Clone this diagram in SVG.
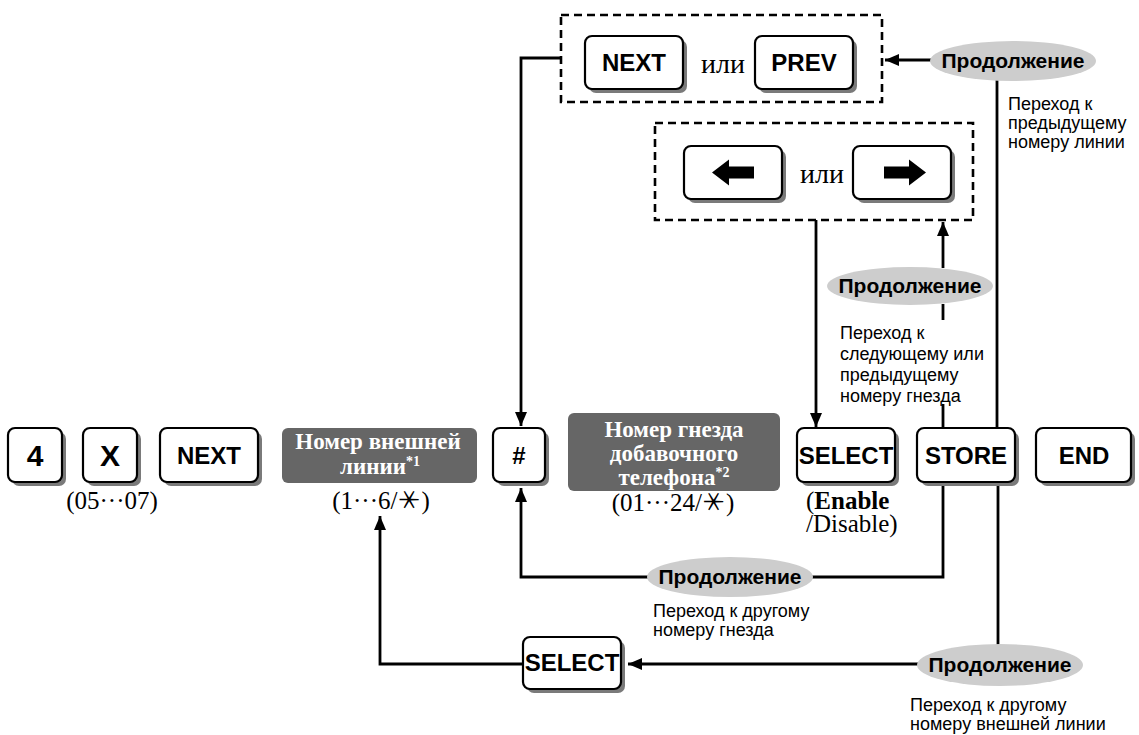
<svg xmlns="http://www.w3.org/2000/svg" width="1139" height="735" viewBox="0 0 1139 735">
<style>
.sh{fill:#7a7a7a}
.k{fill:#fff;stroke:#000;stroke-width:2.2}
.kt{font-family:"Liberation Sans",Arial,sans-serif;font-weight:bold;font-size:24px;text-anchor:middle;fill:#000}
.kb{font-size:30px}
.gb{fill:#666}
.gt{font-family:"Liberation Serif","Times New Roman",serif;font-weight:bold;font-size:23px;text-anchor:middle;fill:#fff}
.sup{font-size:14px}
.ser{font-family:"Liberation Serif","Times New Roman",serif;font-size:25px;fill:#000}
.mid{text-anchor:middle}
.ili{font-size:28px}
.el{fill:#cdcdcd}
.et{font-family:"Liberation Sans",Arial,sans-serif;font-weight:bold;font-size:21px;text-anchor:middle;fill:#000}
.lb{font-family:"Liberation Sans",Arial,sans-serif;font-size:18px;fill:#000}
.ln{fill:none;stroke:#000;stroke-width:2.8}
.ds{fill:none;stroke:#000;stroke-width:2.6;stroke-dasharray:8 5}
.ast{font-family:"Noto Sans CJK JP","DejaVu Sans",sans-serif;font-weight:normal}
</style>
<defs>
<marker id="ah" viewBox="0 0 14 12" refX="14" refY="6" markerWidth="14" markerHeight="12" markerUnits="userSpaceOnUse" orient="auto">
<path d="M0,0 L14,6 L0,12 z" fill="#000"/>
</marker>
</defs>

<g id="connectors">
<path class="ln" d="M561,58 H521 V426" marker-end="url(#ah)"/>
<path class="ln" d="M931,60 H885" marker-end="url(#ah)"/>
<path class="ln" d="M997,80 V428"/>
<path class="ln" d="M816,220 V427" marker-end="url(#ah)"/>
<path class="ln" d="M943,268 V222" marker-end="url(#ah)"/>
<path class="ln" d="M943,304 V320"/>
<path class="ln" d="M943,404 V428"/>
<path class="ln" d="M943,482 V577 H521 V488" marker-end="url(#ah)"/>
<path class="ln" d="M998,482 V646"/>
<path class="ln" d="M918,664 H628" marker-end="url(#ah)"/>
<path class="ln" d="M523,664 H380 V516" marker-end="url(#ah)"/>
</g>

<g id="box-next-prev">
<rect class="ds" x="561" y="15" width="321" height="87"/>
<g id="key-next-top"><rect class="sh" x="589" y="40" width="98" height="53" rx="7"/><rect class="k" x="585" y="36" width="98" height="53" rx="7"/><text class="kt" x="634" y="71">NEXT</text></g>
<text class="ser ili mid" x="723" y="73">или</text>
<g id="key-prev"><rect class="sh" x="759" y="40" width="98" height="53" rx="7"/><rect class="k" x="755" y="36" width="98" height="53" rx="7"/><text class="kt" x="804" y="71">PREV</text></g>
</g>

<g id="box-arrows">
<rect class="ds" x="655" y="123" width="318" height="97"/>
<g id="key-left"><rect class="sh" x="688" y="150" width="98" height="53" rx="7"/><rect class="k" x="684" y="146" width="98" height="53" rx="7"/>
<polygon points="712,172.5 729,159.5 729,166.5 754,166.5 754,178.5 729,178.5 729,185.5" fill="#000"/></g>
<text class="ser ili mid" x="822" y="183">или</text>
<g id="key-right"><rect class="sh" x="857" y="150" width="98" height="53" rx="7"/><rect class="k" x="853" y="146" width="98" height="53" rx="7"/>
<polygon points="926,172.5 909,159.5 909,166.5 884,166.5 884,178.5 909,178.5 909,185.5" fill="#000"/></g>
</g>

<g id="key-4"><rect class="sh" x="12" y="432" width="54" height="54" rx="7"/><rect class="k" x="8" y="428" width="54" height="54" rx="7"/><text class="kt kb" x="35" y="466">4</text></g>
<g id="key-x"><rect class="sh" x="87" y="432" width="54" height="54" rx="7"/><rect class="k" x="83" y="428" width="54" height="54" rx="7"/><text class="kt kb" x="110" y="466">X</text></g>
<text class="ser mid" x="112" y="509">(05···07)</text>
<g id="key-next"><rect class="sh" x="164" y="432" width="98" height="54" rx="7"/><rect class="k" x="160" y="428" width="98" height="54" rx="7"/><text class="kt" x="209" y="464">NEXT</text></g>

<g id="box-line">
<rect class="gb" x="282" y="428" width="195" height="55" rx="6"/>
<text class="gt" x="378" y="449">Номер внешней</text>
<text class="gt" x="380" y="474">линии<tspan class="sup" dy="-8">*1</tspan></text>
</g>
<text class="ser mid" x="381" y="509">(1···6/<tspan class="ast" rotate="30" dx="-4" dy="-7.5">＊</tspan><tspan dx="3" dy="7.5">)</tspan></text>

<g id="key-hash"><rect class="sh" x="497" y="432" width="52" height="54" rx="7"/><rect class="k" x="493" y="428" width="52" height="54" rx="7"/><text class="kt" x="519" y="464">#</text></g>

<g id="box-jack">
<rect class="gb" x="568" y="413" width="212" height="78" rx="6"/>
<text class="gt" x="674" y="437">Номер гнезда</text>
<text class="gt" x="674" y="461">добавочного</text>
<text class="gt" x="674" y="485">телефона<tspan class="sup" dy="-8">*2</tspan></text>
</g>
<text class="ser mid" x="673" y="511">(01···24/<tspan class="ast" rotate="30" dx="-4" dy="-7.5">＊</tspan><tspan dx="3" dy="7.5">)</tspan></text>

<g id="key-select"><rect class="sh" x="801" y="432" width="98" height="54" rx="7"/><rect class="k" x="797" y="428" width="98" height="54" rx="7"/><text class="kt" x="846" y="464">SELECT</text></g>
<text class="ser" x="806" y="509">(<tspan font-weight="bold">Enable</tspan></text>
<text class="ser" x="806" y="532">/Disable)</text>
<g id="key-store"><rect class="sh" x="921" y="432" width="98" height="54" rx="7"/><rect class="k" x="917" y="428" width="98" height="54" rx="7"/><text class="kt" x="966" y="464">STORE</text></g>
<g id="key-end"><rect class="sh" x="1040" y="432" width="95" height="54" rx="7"/><rect class="k" x="1036" y="428" width="95" height="54" rx="7"/><text class="kt" x="1084" y="464">END</text></g>

<g id="key-select2"><rect class="sh" x="527" y="641" width="98" height="52" rx="7"/><rect class="k" x="523" y="637" width="98" height="52" rx="7"/><text class="kt" x="572" y="671">SELECT</text></g>

<g id="cont-top"><ellipse class="el" cx="1013" cy="61" rx="83" ry="20"/><text class="et" x="1013" y="68">Продолжение</text></g>
<text class="lb" x="1008" y="110">Переход к</text>
<text class="lb" x="1008" y="129">предыдущему</text>
<text class="lb" x="1008" y="148">номеру линии</text>

<g id="cont-mid"><ellipse class="el" cx="910" cy="286" rx="83" ry="19"/><text class="et" x="910" y="293">Продолжение</text></g>
<text class="lb" x="840" y="339">Переход к</text>
<text class="lb" x="840" y="360">следующему или</text>
<text class="lb" x="840" y="381">предыдущему</text>
<text class="lb" x="840" y="402">номеру гнезда</text>

<g id="cont-bottom"><ellipse class="el" cx="730" cy="577" rx="83" ry="20"/><text class="et" x="730" y="584">Продолжение</text></g>
<text class="lb" x="653" y="617">Переход к другому</text>
<text class="lb" x="653" y="636">номеру гнезда</text>

<g id="cont-right"><ellipse class="el" cx="1000" cy="665" rx="83" ry="21"/><text class="et" x="1000" y="672">Продолжение</text></g>
<text class="lb" x="910" y="711">Переход к другому</text>
<text class="lb" x="910" y="730">номеру внешней линии</text>
</svg>
